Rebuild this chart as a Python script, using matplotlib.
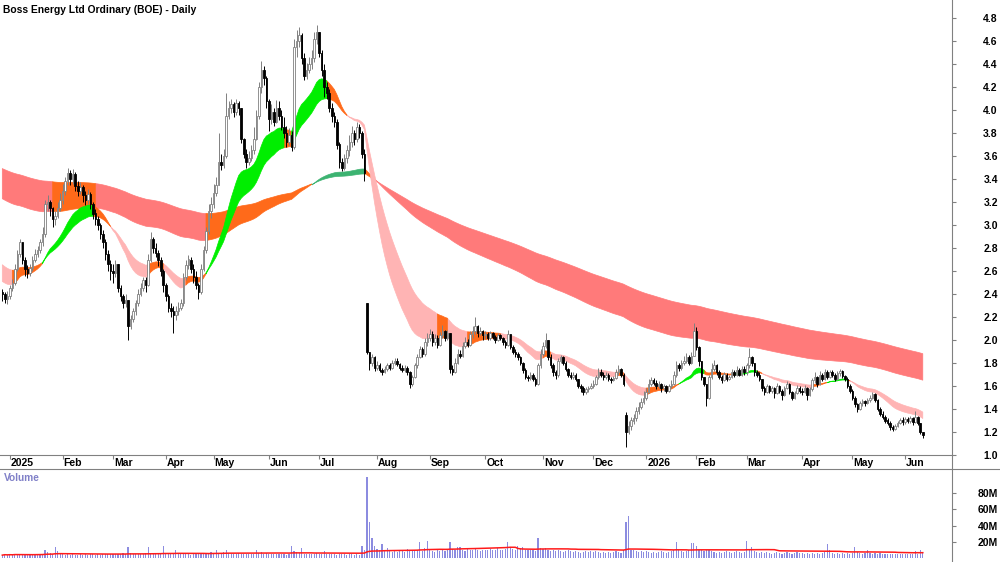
import numpy as np
import pandas as pd
import matplotlib
matplotlib.use("Agg")
import matplotlib.pyplot as plt
from matplotlib.lines import Line2D
from matplotlib.transforms import blended_transform_factory

plt.rcParams['font.family'] = ['Liberation Sans', 'DejaVu Sans']

# ASX trading days on the chart
holidays = ["2025-01-01", "2025-01-27", "2025-04-18", "2025-04-21", "2025-04-25",
            "2025-06-09", "2025-12-25", "2025-12-26", "2026-01-01", "2026-01-26",
            "2026-04-03", "2026-04-06", "2026-06-08"]
days = pd.bdate_range("2024-12-27", "2026-06-11")
days = days[~days.isin(pd.to_datetime(holidays))]

closes = [
    2.40, 2.36, 2.38,  # Dec 24
    2.45, 2.50, 2.62, 2.75, 2.85, 2.70, 2.62, 2.58, 2.63, 2.70, 2.75, 2.78, 2.85, 2.92, 3.18, 3.20, 3.15, 3.05, 3.08, 3.15, 3.22,  # Jan
    3.30, 3.38, 3.45, 3.40, 3.44, 3.34, 3.30, 3.33, 3.26, 3.22, 3.27, 3.18, 3.10, 3.05, 3.00, 2.92, 2.85, 2.75, 2.66, 2.60,  # Feb
    2.58, 2.66, 2.45, 2.38, 2.32, 2.35, 2.12, 2.18, 2.25, 2.32, 2.40, 2.45, 2.52, 2.48, 2.70, 2.88, 2.80, 2.76, 2.70, 2.60, 2.48,  # Mar
    2.38, 2.28, 2.25, 2.22, 2.25, 2.28, 2.32, 2.55, 2.65, 2.70, 2.62, 2.55, 2.48, 2.42, 2.62, 2.78, 2.95, 3.12, 3.18,  # Apr
    3.28, 3.35, 3.55, 3.52, 3.60, 3.95, 4.02, 4.05, 3.98, 4.06, 4.02, 3.75, 3.62, 3.55, 3.58, 3.65, 3.75, 3.95, 4.20, 4.35, 4.28, 4.08,  # May
    3.92, 3.98, 3.90, 4.02, 3.95, 3.85, 3.80, 3.72, 3.78, 3.68, 4.55, 4.60, 4.65, 4.45, 4.30, 4.35, 4.40, 4.45, 4.62, 4.68,  # Jun
    4.50, 4.35, 4.20, 4.15, 4.02, 3.95, 3.90, 3.70, 3.55, 3.50, 3.58, 3.65, 3.72, 3.80, 3.75, 3.85, 3.80, 3.62, 3.45, 1.90, 1.80, 1.85, 1.76,  # Jul
    1.78, 1.74, 1.72, 1.75, 1.78, 1.76, 1.80, 1.82, 1.79, 1.76, 1.74, 1.76, 1.72, 1.62, 1.68, 1.78, 1.85, 1.92, 1.88, 1.98, 2.02,  # Aug
    2.05, 1.98, 2.02, 1.96, 2.04, 2.08, 2.02, 2.06, 1.75, 1.72, 1.80, 1.88, 1.86, 1.95, 1.98, 1.96, 2.05, 2.08, 2.12, 2.06, 2.08, 2.04,  # Sep
    2.05, 2.02, 2.06, 2.03, 2.00, 2.04, 2.02, 1.98, 1.96, 2.05, 1.94, 1.90, 1.88, 1.85, 1.80, 1.74, 1.68, 1.67, 1.70, 1.66, 1.62, 1.78, 1.88,  # Oct
    1.95, 2.00, 1.85, 1.78, 1.72, 1.70, 1.82, 1.85, 1.80, 1.75, 1.70, 1.68, 1.70, 1.66, 1.60, 1.58, 1.55, 1.57, 1.58, 1.60,  # Nov
    1.62, 1.68, 1.72, 1.70, 1.68, 1.70, 1.66, 1.65, 1.67, 1.72, 1.75, 1.70, 1.62, 1.20, 1.25, 1.30, 1.32, 1.38, 1.42, 1.46, 1.50,  # Dec
    1.55, 1.62, 1.65, 1.63, 1.60, 1.62, 1.58, 1.60, 1.56, 1.60, 1.62, 1.70, 1.78, 1.76, 1.80, 1.82, 1.85, 1.80, 1.86, 2.08,  # Jan 26
    1.94, 1.82, 1.68, 1.62, 1.50, 1.68, 1.75, 1.78, 1.72, 1.68, 1.65, 1.70, 1.66, 1.68, 1.72, 1.70, 1.74, 1.70, 1.75, 1.72,  # Feb
    1.78, 1.85, 1.80, 1.72, 1.70, 1.66, 1.58, 1.55, 1.60, 1.56, 1.58, 1.54, 1.60, 1.56, 1.52, 1.58, 1.62, 1.55, 1.50, 1.54, 1.58, 1.56,  # Mar
    1.55, 1.58, 1.52, 1.57, 1.65, 1.68, 1.62, 1.70, 1.66, 1.72, 1.68, 1.72, 1.70, 1.66, 1.71, 1.73, 1.69, 1.66, 1.60, 1.56,  # Apr
    1.50, 1.44, 1.40, 1.45, 1.47, 1.45, 1.48, 1.50, 1.53, 1.48, 1.40, 1.36, 1.33, 1.30, 1.28, 1.24, 1.23, 1.25, 1.28, 1.30, 1.29,  # May
    1.31, 1.30, 1.32, 1.29, 1.33, 1.28, 1.20, 1.17,  # Jun
]

highs = [
    2.44, 2.42, 2.43,
    2.48, 2.53, 2.66, 2.78, 2.88, 2.84, 2.72, 2.65, 2.66, 2.73, 2.79, 2.82, 2.88, 2.98, 3.22, 3.26, 3.22, 3.16, 3.12, 3.20, 3.28,
    3.36, 3.42, 3.50, 3.48, 3.49, 3.46, 3.38, 3.37, 3.35, 3.30, 3.31, 3.29, 3.20, 3.14, 3.08, 3.02, 2.96, 2.88, 2.78, 2.70,
    2.66, 2.70, 2.64, 2.48, 2.40, 2.40, 2.30, 2.22, 2.28, 2.35, 2.44, 2.50, 2.55, 2.55, 2.75, 2.94, 2.90, 2.84, 2.78, 2.72, 2.62,
    2.50, 2.40, 2.32, 2.30, 2.30, 2.33, 2.36, 2.58, 2.70, 2.74, 2.72, 2.66, 2.60, 2.50, 2.66, 2.82, 2.98, 3.18, 3.24,
    3.36, 3.42, 3.80, 3.62, 3.66, 4.15, 4.08, 4.10, 4.07, 4.10, 4.08, 3.97, 3.76, 3.66, 3.64, 3.70, 3.85, 4.00, 4.24, 4.43, 4.38, 4.30,
    4.10, 4.05, 4.02, 4.09, 4.08, 4.00, 3.94, 3.86, 3.84, 3.82, 4.62, 4.70, 4.72, 4.67, 4.50, 4.41, 4.46, 4.52, 4.68, 4.74,
    4.67, 4.52, 4.40, 4.24, 4.18, 4.06, 3.98, 3.92, 3.72, 3.58, 3.62, 3.70, 3.78, 3.86, 3.83, 3.90, 3.88, 3.82, 3.66, 2.32, 1.89, 1.88, 1.86,
    1.82, 1.80, 1.76, 1.77, 1.80, 1.80, 1.83, 1.84, 1.84, 1.80, 1.78, 1.78, 1.77, 1.73, 1.70, 1.80, 1.88, 1.95, 1.94, 2.02, 2.06,
    2.10, 2.08, 2.05, 2.04, 2.07, 2.13, 2.09, 2.09, 1.94, 1.78, 1.84, 1.92, 1.91, 1.98, 2.03, 2.01, 2.08, 2.12, 2.20, 2.13, 2.11, 2.09,
    2.08, 2.07, 2.08, 2.07, 2.04, 2.06, 2.05, 2.03, 2.00, 2.09, 2.05, 1.96, 1.92, 1.90, 1.86, 1.81, 1.76, 1.70, 1.72, 1.71, 1.68, 1.80, 1.92,
    1.98, 2.06, 2.00, 1.88, 1.80, 1.74, 1.84, 1.87, 1.86, 1.82, 1.76, 1.72, 1.72, 1.71, 1.66, 1.62, 1.60, 1.59, 1.60, 1.63,
    1.65, 1.70, 1.76, 1.75, 1.72, 1.72, 1.71, 1.68, 1.69, 1.75, 1.78, 1.76, 1.71, 1.37, 1.30, 1.33, 1.36, 1.42, 1.46, 1.50, 1.56,
    1.58, 1.66, 1.68, 1.67, 1.65, 1.64, 1.63, 1.62, 1.61, 1.62, 1.65, 1.73, 1.82, 1.80, 1.83, 1.86, 1.89, 1.87, 1.90, 2.15,
    2.11, 1.95, 1.80, 1.68, 1.60, 1.70, 1.80, 1.83, 1.79, 1.74, 1.70, 1.72, 1.71, 1.70, 1.75, 1.74, 1.77, 1.76, 1.77, 1.77,
    1.80, 1.93, 1.86, 1.80, 1.74, 1.72, 1.66, 1.60, 1.62, 1.61, 1.60, 1.59, 1.63, 1.61, 1.57, 1.60, 1.64, 1.63, 1.56, 1.56, 1.61, 1.60,
    1.58, 1.61, 1.59, 1.59, 1.67, 1.72, 1.69, 1.73, 1.71, 1.75, 1.74, 1.74, 1.74, 1.71, 1.73, 1.75, 1.74, 1.70, 1.68, 1.62,
    1.57, 1.51, 1.45, 1.47, 1.49, 1.48, 1.50, 1.52, 1.55, 1.54, 1.49, 1.42, 1.38, 1.35, 1.32, 1.30, 1.26, 1.27, 1.30, 1.32, 1.33,
    1.33, 1.33, 1.34, 1.33, 1.38, 1.34, 1.24, 1.20,
]

lows = [
    2.34, 2.32, 2.31,
    2.36, 2.43, 2.48, 2.60, 2.72, 2.66, 2.56, 2.54, 2.56, 2.60, 2.68, 2.72, 2.76, 2.82, 2.90, 3.12, 3.08, 2.98, 3.00, 3.06, 3.12,
    3.18, 3.26, 3.35, 3.35, 3.36, 3.30, 3.25, 3.27, 3.20, 3.17, 3.18, 3.14, 3.05, 3.00, 2.96, 2.88, 2.80, 2.70, 2.60, 2.52,
    2.50, 2.55, 2.42, 2.34, 2.28, 2.29, 2.00, 2.10, 2.16, 2.22, 2.30, 2.38, 2.43, 2.42, 2.47, 2.68, 2.76, 2.72, 2.64, 2.56, 2.42,
    2.34, 2.24, 2.20, 2.06, 2.17, 2.22, 2.26, 2.30, 2.52, 2.62, 2.58, 2.50, 2.44, 2.36, 2.40, 2.60, 2.76, 2.92, 3.06,
    3.15, 3.25, 3.35, 3.48, 3.50, 3.58, 3.92, 3.97, 3.94, 3.96, 3.96, 3.71, 3.58, 3.50, 3.52, 3.56, 3.62, 3.74, 3.92, 4.15, 4.22, 4.02,
    3.82, 3.88, 3.86, 3.89, 3.91, 3.83, 3.76, 3.68, 3.70, 3.64, 3.66, 4.46, 4.55, 4.40, 4.26, 4.27, 4.32, 4.36, 4.42, 4.57,
    4.46, 4.30, 4.11, 4.10, 3.98, 3.90, 3.85, 3.66, 3.50, 3.47, 3.48, 3.54, 3.60, 3.68, 3.70, 3.72, 3.76, 3.58, 3.38, 1.88, 1.74, 1.77, 1.73,
    1.74, 1.72, 1.70, 1.71, 1.73, 1.74, 1.75, 1.78, 1.77, 1.74, 1.72, 1.72, 1.70, 1.58, 1.60, 1.67, 1.76, 1.84, 1.85, 1.86, 1.95,
    1.99, 1.95, 1.96, 1.93, 1.95, 2.02, 1.99, 2.00, 1.71, 1.70, 1.71, 1.79, 1.84, 1.85, 1.93, 1.94, 1.95, 2.02, 2.05, 2.03, 2.04, 2.00,
    2.01, 2.00, 2.00, 2.01, 1.97, 1.99, 2.00, 1.96, 1.93, 1.95, 1.92, 1.88, 1.85, 1.83, 1.78, 1.71, 1.66, 1.64, 1.65, 1.64, 1.60, 1.61, 1.76,
    1.86, 1.93, 1.83, 1.76, 1.69, 1.66, 1.68, 1.80, 1.78, 1.73, 1.68, 1.66, 1.66, 1.64, 1.58, 1.55, 1.52, 1.53, 1.55, 1.57,
    1.58, 1.61, 1.66, 1.68, 1.65, 1.66, 1.64, 1.63, 1.64, 1.66, 1.70, 1.68, 1.60, 1.07, 1.18, 1.22, 1.27, 1.30, 1.36, 1.40, 1.44,
    1.48, 1.54, 1.60, 1.61, 1.57, 1.58, 1.55, 1.56, 1.54, 1.55, 1.58, 1.61, 1.68, 1.73, 1.74, 1.78, 1.80, 1.78, 1.79, 1.86,
    1.91, 1.77, 1.65, 1.60, 1.43, 1.49, 1.66, 1.73, 1.70, 1.66, 1.63, 1.64, 1.64, 1.65, 1.67, 1.68, 1.69, 1.69, 1.69, 1.70,
    1.70, 1.76, 1.77, 1.69, 1.68, 1.64, 1.56, 1.52, 1.54, 1.54, 1.54, 1.50, 1.53, 1.54, 1.48, 1.51, 1.57, 1.53, 1.48, 1.49, 1.53, 1.54,
    1.52, 1.54, 1.48, 1.51, 1.56, 1.63, 1.59, 1.61, 1.64, 1.65, 1.66, 1.67, 1.68, 1.64, 1.65, 1.69, 1.67, 1.64, 1.58, 1.54,
    1.48, 1.42, 1.37, 1.39, 1.43, 1.43, 1.44, 1.46, 1.49, 1.46, 1.38, 1.34, 1.31, 1.28, 1.26, 1.22, 1.21, 1.22, 1.24, 1.27, 1.26,
    1.27, 1.28, 1.28, 1.26, 1.28, 1.26, 1.18, 1.15,
]

first_open = 2.42
gap_opens = {145: 2.32, 248: 1.35}   # days that opened away from the prior close

volume_m = [
    3, 4, 3,
    4, 3, 5, 4, 3, 4, 3, 3, 4, 3, 4, 5, 4, 4, 9, 7, 6, 5, 13, 8, 5,
    4, 3, 4, 3, 4, 3, 3, 4, 3, 4, 3, 4, 5, 3, 4, 3, 4, 5, 4, 4,
    5, 4, 4, 5, 6, 4, 13, 6, 5, 4, 5, 4, 5, 6, 13, 5, 4, 5, 4, 6, 14,
    5, 4, 5, 6, 10, 5, 4, 5, 6, 4, 3, 4, 5, 4, 5, 6, 5, 6, 7,
    6, 10, 5, 6, 7, 10, 6, 5, 4, 5, 6, 5, 4, 5, 4, 4, 5, 10, 6, 7, 5, 6,
    4, 5, 4, 5, 4, 5, 4, 3, 4, 14, 8, 7, 6, 12, 5, 4, 5, 4, 5, 6,
    5, 4, 8, 5, 4, 5, 4, 3, 4, 5, 4, 3, 4, 4, 3, 4, 3, 14, 9, 100, 45, 25, 14,
    11, 9, 17, 8, 12, 8, 7, 8, 7, 9, 8, 7, 11, 9, 8, 9, 10, 20, 8, 12, 21,
    9, 8, 7, 9, 8, 10, 8, 9, 19, 11, 10, 13, 13, 9, 8, 11, 9, 10, 12, 9, 8, 10,
    10, 9, 11, 10, 9, 12, 10, 9, 11, 20, 12, 11, 10, 14, 12, 13, 10, 9, 10, 9, 8, 24, 12,
    11, 12, 9, 8, 10, 8, 9, 8, 7, 8, 9, 8, 7, 8, 7, 6, 7, 8, 7, 8,
    7, 8, 7, 6, 7, 6, 7, 6, 7, 8, 7, 6, 9, 45, 52, 10, 9, 8, 7, 8, 7,
    8, 7, 6, 7, 6, 7, 8, 7, 6, 7, 8, 9, 20, 9, 8, 7, 8, 9, 18, 18,
    15, 10, 9, 8, 10, 9, 8, 7, 6, 7, 6, 7, 8, 7, 6, 7, 8, 7, 6, 7,
    21, 9, 13, 8, 7, 6, 7, 6, 7, 6, 5, 6, 7, 6, 5, 6, 7, 6, 5, 6, 7, 6,
    6, 5, 6, 5, 6, 5, 6, 5, 6, 7, 17, 10, 6, 5, 6, 5, 6, 5, 6, 5,
    6, 13, 7, 6, 5, 6, 10, 6, 5, 6, 5, 6, 5, 4, 5, 4, 5, 4, 5, 4, 5,
    5, 4, 5, 4, 8, 5, 9, 6,
]

# EMA ribbons (fast, slow) and their levels at the chart's left edge
short_periods = (21, 34)
short_start = (2.52, 2.67)
long_periods = (144, 233)
long_start = (3.24, 3.50)

for name, arr in [("closes", closes), ("highs", highs), ("lows", lows), ("volume", volume_m)]:
    if len(arr) != len(days):
        raise SystemExit(f"{name} has {len(arr)} values, expected {len(days)}")

n = len(days)
x = np.arange(n)
c = np.array(closes)
o = np.r_[first_open, c[:-1]]
for k, v in gap_opens.items():
    o[k] = v
h = np.maximum(np.array(highs), np.maximum(o, c))
l = np.minimum(np.array(lows), np.minimum(o, c))
vol = np.array(volume_m, dtype=float)


def ema(values, period, start):
    a = 2.0 / (period + 1)
    out = np.empty(len(values))
    prev = start
    for i, v in enumerate(values):
        prev = prev + a * (v - prev)
        out[i] = prev
    return out


def draw_band(ax, periods, start, colors, z, lag=4):
    fast = ema(c, periods[0], start[0])
    slow = ema(c, periods[1], start[1])
    # direction of the fast line over the last few sessions, short flips ignored
    past = np.r_[np.full(lag, start[0]), fast[:-lag]]
    rising = pd.Series((fast > past).astype(float)).rolling(5, center=True, min_periods=1).median()
    rising = rising.to_numpy() > 0.5
    bull = fast > slow
    state = np.where(bull & rising, "up", np.where(~bull & ~rising, "down", "mix"))
    lo, hi = np.minimum(fast, slow), np.maximum(fast, slow)
    for key, col in colors.items():
        m = state == key
        m[:-1] |= m[1:]
        ax.fill_between(x, lo, hi, where=m, color=col, lw=0.5, zorder=z)


W, H = 1000, 562
gray = "#808080"
fig = plt.figure(figsize=(W / 100, H / 100), dpi=100)
ax = fig.add_axes([0, 1 - 455 / H, 952 / W, 455 / H])
strip = fig.add_axes([0, 1 - 469 / H, 952 / W, 14 / H])
vax = fig.add_axes([0, 0, 952 / W, 93 / H])

xlim = (-2.3 / 2.515, (952 - 2.3) / 2.515)

# price panel
draw_band(ax, long_periods, long_start, {"down": "#ff7a7a", "mix": "#ff6a1a", "up": "#3cb371"}, 1)
draw_band(ax, short_periods, short_start, {"down": "#ffb4b4", "mix": "#ff6a1a", "up": "#00ee00"}, 2)

up = c >= o
ax.vlines(x[up], l[up], h[up], color=gray, lw=0.7, zorder=3)
ax.vlines(x[~up], l[~up], h[~up], color="black", lw=0.7, zorder=3)
body_lo = np.minimum(o, c)
body_h = np.maximum(np.abs(c - o), 0.006)
ax.bar(x[up], body_h[up], bottom=body_lo[up], width=0.62, color="white",
       edgecolor=gray, lw=0.6, zorder=4)
ax.bar(x[~up], body_h[~up], bottom=body_lo[~up], width=0.62, color="black",
       edgecolor="black", lw=0.6, zorder=4)

ax.set_xlim(xlim)
ax.set_ylim(1.0, 1.0 + 455 / 115)
ax.set_xticks([])
ax.yaxis.tick_right()
yt = np.round(np.arange(1.0, 4.81, 0.2), 1)
ax.set_yticks(yt)
ax.set_yticklabels([f"{v:.1f}" for v in yt], fontweight="bold", fontsize=7.5, ha="right")
ax.tick_params(axis="y", direction="out", length=3, width=0.8, color=gray, pad=30)

# month strip
month_idx, month_lab = [], []
for (yr, mo), grp in pd.Series(x, index=days).groupby([days.year, days.month]):
    i0 = grp.iloc[0]
    if i0 == 0:
        continue
    month_idx.append(i0)
    month_lab.append(str(yr) if mo == 1 else days[i0].strftime("%b"))
strip.set_xlim(xlim)
strip.set_ylim(0, 1)
strip.set_yticks([])
strip.set_xticks(month_idx)
strip.tick_params(axis="x", direction="in", top=True, bottom=False, labelbottom=False,
                  length=3, width=0.8, color=gray)
tr = blended_transform_factory(strip.transData, strip.transAxes)
for i0, lab in zip(month_idx, month_lab):
    strip.text(i0 + 0.4, 0.45, lab, transform=tr, ha="left", va="center",
               fontsize=7.5, fontweight="bold")

# volume panel
vax.bar(x, vol, width=0.45, color="#8c8ce0", zorder=2)
vma = pd.Series(vol).rolling(60, min_periods=1).mean()
vax.plot(x, vma, color="#ff1a1a", lw=1.1, zorder=3)
vax.set_xlim(xlim)
vax.set_ylim(-5.6, 110.6)
vax.set_xticks([])
vax.yaxis.tick_right()
vax.set_yticks([20, 40, 60, 80])
vax.set_yticklabels(["20M", "40M", "60M", "80M"], fontweight="bold", fontsize=7.5, ha="right")
vax.tick_params(axis="y", direction="out", length=3, width=0.8, color=gray, pad=30)

for a in (ax, strip, vax):
    for side in ("left", "top", "bottom"):
        a.spines[side].set_visible(False)
    a.spines["right"].set_color(gray)
    a.spines["right"].set_linewidth(0.8)
    a.patch.set_alpha(0)
strip.spines["top"].set_visible(True)
strip.spines["top"].set_color(gray)
strip.spines["top"].set_linewidth(0.8)

fig.add_artist(Line2D([0, 1], [1 - 469 / H] * 2, transform=fig.transFigure, color=gray, lw=0.8))

fig.text(3 / W, 1 - 10 / H, "Boss Energy Ltd Ordinary (BOE) - Daily", fontweight="bold",
         fontsize=7.4, va="center", ha="left")
fig.text(4 / W, 1 - 478 / H, "Volume", color="#8080c8", fontweight="bold",
         fontsize=7.3, va="center", ha="left")

fig.savefig("out.png", dpi=100)
